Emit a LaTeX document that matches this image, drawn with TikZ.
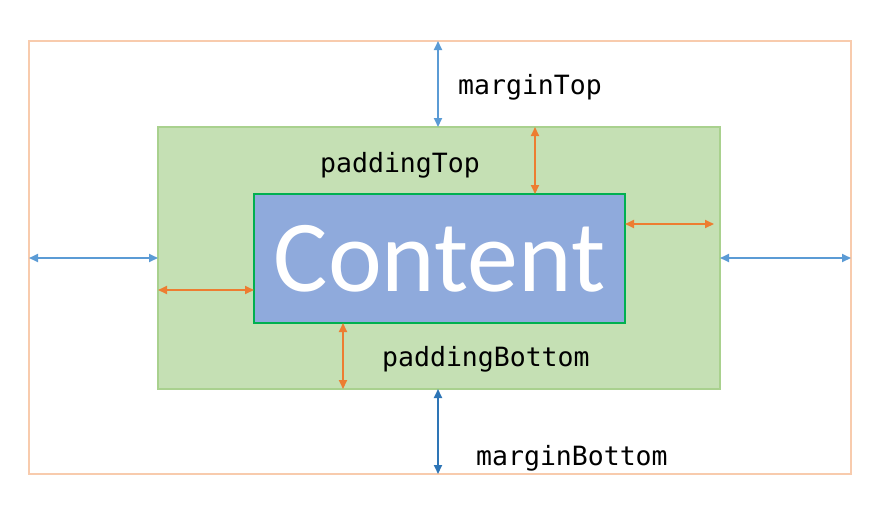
\documentclass[tikz,border=0pt]{standalone}
\usepackage{fontspec}
\newfontfamily\monofont{DejaVu Sans Mono}
\newfontfamily\contentfont{Carlito}
\usetikzlibrary{arrows.meta}
\definecolor{peach}{HTML}{F8CBAD}
\definecolor{greenfill}{HTML}{C5E0B4}
\definecolor{greenline}{HTML}{A9D18E}
\definecolor{contentfill}{HTML}{8FAADC}
\definecolor{contentline}{HTML}{00B050}
\definecolor{blueA}{HTML}{5B9BD5}
\definecolor{blueB}{HTML}{2E75B6}
\definecolor{orangeA}{HTML}{ED7D31}
\tikzset{
  box/.style={draw, rectangle, inner sep=0pt, outer sep=0pt},
  dimarrow/.style={line width=1.8pt, {Triangle[length=9pt,width=8pt]}-{Triangle[length=9pt,width=8pt]}},
  lbl/.style={font=\monofont\fontsize{26.5}{30}\selectfont, anchor=west, inner sep=0pt}
}
\begin{document}
\begin{tikzpicture}[x=1pt,y=-1pt]
\useasboundingbox (0,0) rectangle (890,512);
\node[box, draw=peach, line width=2pt, minimum width=822pt, minimum height=433pt] (margin) at (440,257.5) {};
\node[box, draw=greenline, fill=greenfill, line width=1.5pt, minimum width=562pt, minimum height=262pt] (padding) at (439,258) {};
\node[box, draw=contentline, fill=contentfill, line width=2pt, minimum width=371pt, minimum height=129pt, text=white, font=\contentfont\fontsize{102}{110}\selectfont] (content) at (439.5,258.5) {Content};
% margin arrows
\draw[dimarrow, blueA] (438,0 |- margin.north) -- (438,0 |- padding.north);
\draw[dimarrow, blueA] (0,258 -| margin.west) -- (0,258 -| padding.west);
\draw[dimarrow, blueA] (0,258 -| padding.east) -- (0,258 -| margin.east);
\draw[dimarrow, blueB] (438,0 |- padding.south) -- (438,0 |- margin.south);
% padding arrows
\draw[dimarrow, orangeA] (535,0 |- padding.north) -- (535,0 |- content.north);
\draw[dimarrow, orangeA] (0,224 -| content.east) -- (714,224);
\draw[dimarrow, orangeA] (0,290 -| padding.west) -- (0,290 -| content.west);
\draw[dimarrow, orangeA] (343,0 |- content.south) -- (343,0 |- padding.south);
% labels
\node[lbl] (mt) at (458,87) {marginTop};
\node[lbl] (pt) at (320,165) {paddingTop};
\node[lbl] (pb) at (382,359) {paddingBottom};
\node[lbl] (mb) at (476,458) {marginBottom};
\end{tikzpicture}
\end{document}
